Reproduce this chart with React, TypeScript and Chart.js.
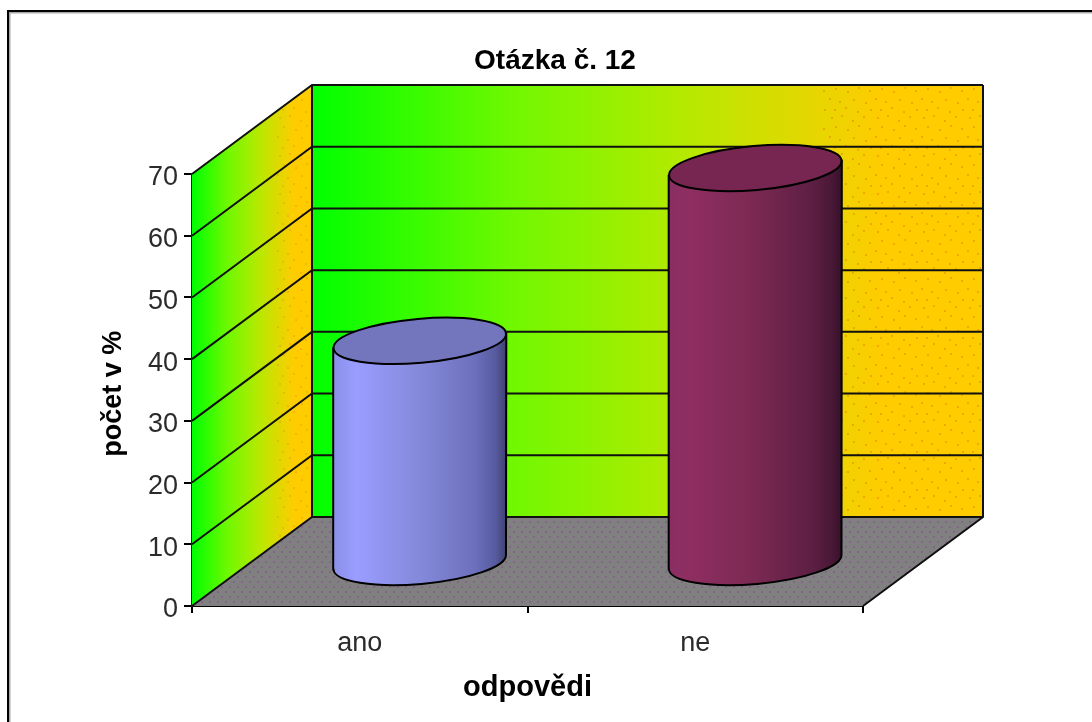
import React, { useEffect, useRef } from "react";
import { Chart, registerables } from "chart.js";

Chart.register(...registerables);

const categories = ["ano", "ne"];
const responses = [36, 64];
const titleText = "Otázka č. 12";
const xTitle = "odpovědi";
const yTitle = "počet v % ";
const yMax = 70;
const yStep = 10;
const sideStops = [0, 0.13, 0.5, 0.82, 0.94, 1];
const barSides = [
  ["#8a8fe6", "#9a9dff", "#8589da", "#6c70bc", "#565a9e", "#3f416f"],
  ["#8a2f62", "#8e2e61", "#7a2952", "#5e1f44", "#4a1836", "#36112a"],
];
const barTops = ["#7376bd", "#762650"];

const FONT = "'Liberation Sans', Arial, sans-serif";
const INK = "#2b2b2b";
const DEPTH_X = 120;
const DEPTH_Y = 89;

const wallStops: [number, string][] = [
  [0, "#00ff00"],
  [0.3, "#70f800"],
  [0.55, "#b4ea00"],
  [0.85, "#ffcc00"],
  [1, "#ffcc00"],
];

const wallDots = [
  [3, 3], [13, 1], [24, 6], [35, 2], [7, 12], [19, 15], [30, 11], [41, 14],
  [1, 22], [11, 25], [25, 23], [37, 26], [6, 33], [17, 31], [29, 35], [42, 33],
];
const floorDots = [[1, 1], [9, 1], [5, 6], [13, 6]];

function makeFloorPattern(ctx: CanvasRenderingContext2D) {
  const c = document.createElement("canvas");
  c.width = 16;
  c.height = 10;
  const g = c.getContext("2d")!;
  g.fillStyle = "#808080";
  g.fillRect(0, 0, 16, 10);
  g.fillStyle = "#85648a";
  floorDots.forEach(([x, y]) => g.fillRect(x, y, 2, 2));
  return ctx.createPattern(c, "repeat")!;
}

function makeWallPattern(ctx: CanvasRenderingContext2D) {
  const c = document.createElement("canvas");
  c.width = 46;
  c.height = 38;
  const g = c.getContext("2d")!;
  g.fillStyle = "rgba(225,140,0,0.55)";
  wallDots.forEach(([x, y]) => g.fillRect(x, y, 2, 2));
  return ctx.createPattern(c, "repeat")!;
}

function wallGradient(ctx: CanvasRenderingContext2D, x0: number, x1: number) {
  const g = ctx.createLinearGradient(x0, 0, x1, 0);
  wallStops.forEach(([t, col]) => g.addColorStop(t, col));
  return g;
}

function poly(ctx: CanvasRenderingContext2D, pts: number[][]) {
  ctx.beginPath();
  pts.forEach(([x, y], i) => (i ? ctx.lineTo(x, y) : ctx.moveTo(x, y)));
  ctx.closePath();
}

const framePlugin = {
  id: "frame",
  beforeDraw(chart: any) {
    const { ctx, width, height } = chart;
    ctx.save();
    ctx.fillStyle = "#ffffff";
    ctx.fillRect(0, 0, width, height);
    ctx.fillStyle = "#a8a8a8";
    ctx.fillRect(9, 12, 1.5, height);
    ctx.fillRect(9, 12, width, 1.5);
    ctx.fillStyle = "#000000";
    ctx.fillRect(7, 10, 2, height);
    ctx.fillRect(7, 10, width, 2);
    ctx.restore();
  },
};

const wallsPlugin = {
  id: "walls",
  beforeDatasetsDraw(chart: any) {
    const { ctx, chartArea, scales } = chart;
    const { left, right, top, bottom } = chartArea;
    const y = scales.y;
    const bx = left + DEPTH_X;
    const bxr = right + DEPTH_X;
    const by = bottom - DEPTH_Y;
    const byt = top - DEPTH_Y;
    const wallDotFill = makeWallPattern(ctx);

    ctx.save();
    // back wall
    ctx.fillStyle = wallGradient(ctx, bx, bxr);
    ctx.fillRect(bx, byt, bxr - bx, by - byt);
    ctx.fillStyle = wallDotFill;
    ctx.fillRect(bx + (bxr - bx) * 0.76, byt, (bxr - bx) * 0.24, by - byt);

    // side wall
    poly(ctx, [[left, bottom], [bx, by], [bx, byt], [left, top]]);
    ctx.fillStyle = wallGradient(ctx, left, bx);
    ctx.fill();
    ctx.save();
    poly(ctx, [[left + DEPTH_X * 0.7, bottom - DEPTH_Y * 0.7], [bx, by], [bx, byt], [left + DEPTH_X * 0.7, top - DEPTH_Y * 0.7]]);
    ctx.clip();
    ctx.fillStyle = wallDotFill;
    ctx.globalAlpha = 0.6;
    ctx.fillRect(left, byt, DEPTH_X, bottom - byt);
    ctx.restore();

    // floor
    poly(ctx, [[left, bottom], [bx, by], [bxr, by], [right, bottom]]);
    ctx.fillStyle = makeFloorPattern(ctx);
    ctx.fill();

    // grid lines
    ctx.strokeStyle = "#101010";
    ctx.lineWidth = 2;
    y.ticks.forEach((t: any) => {
      const py = y.getPixelForValue(t.value);
      ctx.beginPath();
      ctx.moveTo(left, py);
      ctx.lineTo(bx, py - DEPTH_Y);
      ctx.lineTo(bxr, py - DEPTH_Y);
      ctx.stroke();
    });
    // outlines
    ctx.beginPath();
    ctx.moveTo(bx, byt);
    ctx.lineTo(bx, by);
    ctx.moveTo(bxr, byt);
    ctx.lineTo(bxr, by);
    ctx.lineTo(right, bottom);
    ctx.stroke();
    ctx.restore();
  },
};

const TILT = -0.087;

const cylinderPlugin = {
  id: "cylinders",
  afterDatasetsDraw(chart: any) {
    const { ctx } = chart;
    const meta = chart.getDatasetMeta(0);
    meta.data.forEach((bar: any, i: number) => {
      const r = bar.width / 2;
      const cx = bar.x + DEPTH_X / 2;
      const topY = bar.y - 43;
      const baseY = bar.base - 43;
      const ry = 22;
      const dy = r * Math.sin(-TILT);

      ctx.save();
      const grad = ctx.createLinearGradient(cx - r, 0, cx + r, 0);
      sideStops.forEach((s, k) => grad.addColorStop(s, barSides[i][k]));

      ctx.beginPath();
      ctx.moveTo(cx - r, topY + dy);
      ctx.lineTo(cx - r, baseY + dy);
      ctx.ellipse(cx, baseY, r, ry, TILT, Math.PI, 0, true);
      ctx.lineTo(cx + r, topY - dy);
      ctx.closePath();
      ctx.fillStyle = grad;
      ctx.fill();
      ctx.strokeStyle = "#000000";
      ctx.lineWidth = 2;
      ctx.stroke();

      ctx.beginPath();
      ctx.ellipse(cx, topY, r, ry, TILT, 0, Math.PI * 2);
      ctx.fillStyle = barTops[i];
      ctx.fill();
      ctx.stroke();
      ctx.restore();
    });
  },
};

export default function App() {
  const ref = useRef<HTMLCanvasElement>(null);

  useEffect(() => {
    const chart = new Chart(ref.current!, {
      type: "bar",
      data: {
        labels: categories,
        datasets: [
          {
            label: "počet v %",
            data: responses,
            backgroundColor: "rgba(0,0,0,0)",
            borderWidth: 0,
            categoryPercentage: 1,
            barPercentage: 0.516,
          },
        ],
      },
      plugins: [framePlugin, wallsPlugin, cylinderPlugin],
      options: {
        responsive: false,
        animation: false,
        layout: { padding: { left: 18, top: 44, right: 0, bottom: 0 } },
        plugins: {
          legend: { display: false },
          tooltip: { enabled: false },
          title: {
            display: true,
            text: titleText,
            color: "#000000",
            font: { family: FONT, size: 28, weight: "bold", lineHeight: 1.2 },
            padding: { top: 0, bottom: 96.4 },
          },
        },
        scales: {
          x: {
            grid: {
              drawOnChartArea: false,
              drawTicks: true,
              tickLength: 7,
              color: "#000000",
              lineWidth: 2,
              offset: true,
            },
            border: { display: true, color: "#000000", width: 2 },
            ticks: {
              color: INK,
              padding: 14,
              font: { family: FONT, size: 27 },
              maxRotation: 0,
            },
            title: {
              display: true,
              text: xTitle,
              color: "#000000",
              font: { family: FONT, size: 29, weight: "bold", lineHeight: 1.2 },
              padding: { top: 0, bottom: 17 },
            },
            afterFit(s: any) {
              s.height = 116;
            },
          },
          y: {
            min: 0,
            max: yMax,
            grid: {
              drawOnChartArea: false,
              drawTicks: true,
              tickLength: 8,
              color: "#000000",
              lineWidth: 2,
            },
            border: { display: true, color: "#222222", width: 2 },
            ticks: {
              stepSize: yStep,
              color: INK,
              padding: 6,
              labelOffset: 4,
              font: { family: FONT, size: 27 },
            },
            title: {
              display: true,
              text: yTitle,
              color: "#000000",
              font: { family: FONT, size: 27, weight: "bold", lineHeight: 1.2 },
              padding: { top: 79, bottom: 0 },
            },
            afterFit(s: any) {
              s.width = 174;
            },
          },
          spacer: {
            type: "linear",
            position: "right",
            display: true,
            grid: { display: false, drawTicks: false },
            border: { display: false },
            ticks: { display: false },
            afterFit(s: any) {
              s.width = 229;
            },
          },
        },
      },
    } as any);
    return () => chart.destroy();
  }, []);

  return (
    <canvas
      ref={ref}
      width={1092}
      height={722}
      style={{ position: "fixed", left: 0, top: 0, display: "block" }}
    />
  );
}
